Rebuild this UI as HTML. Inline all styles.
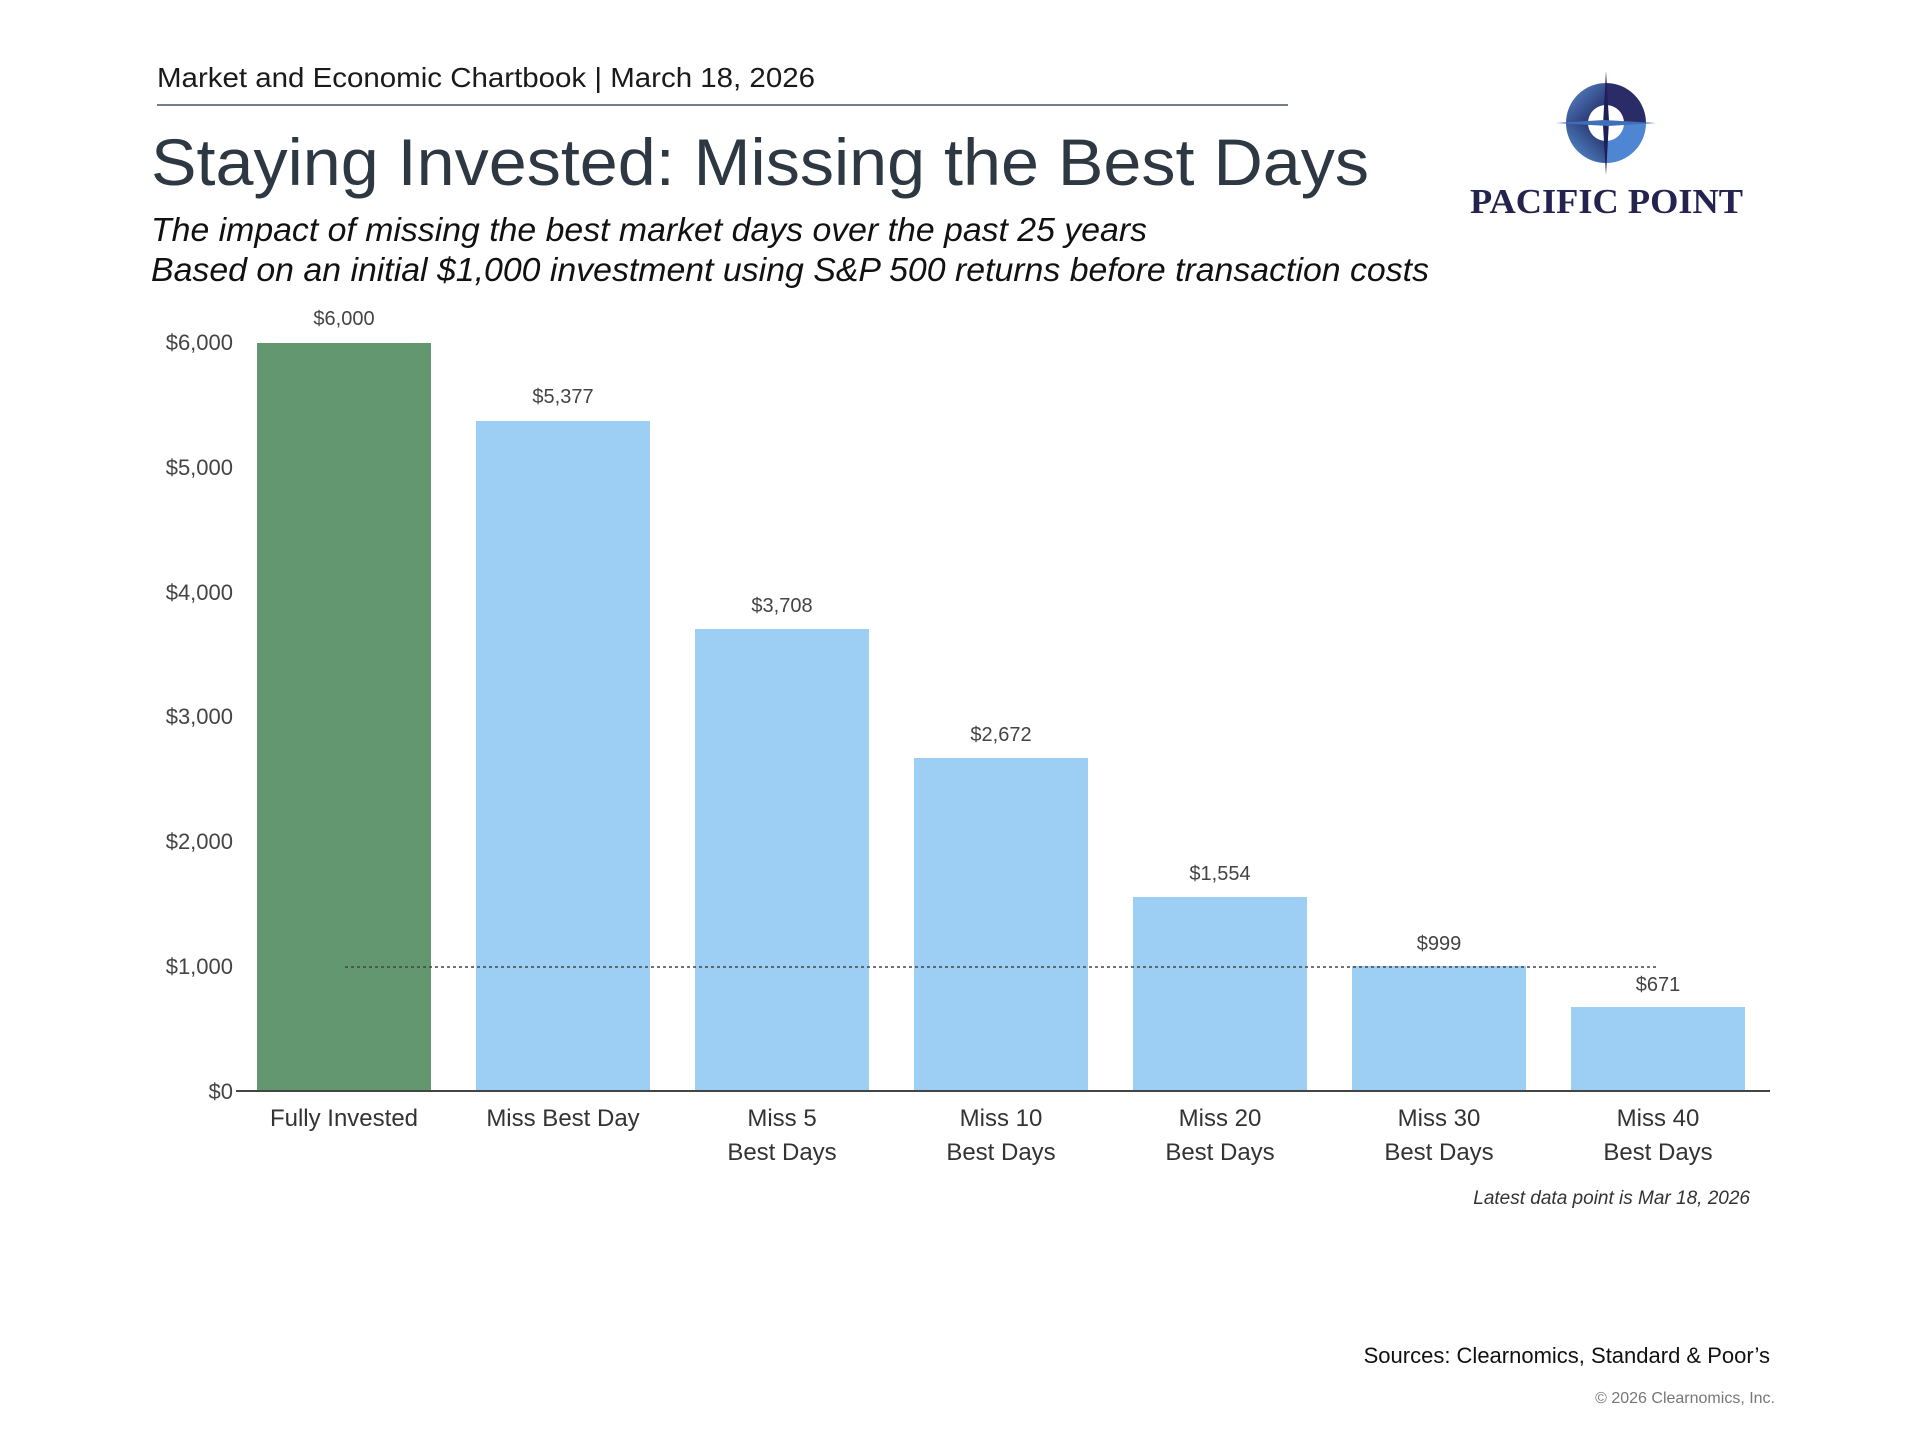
<!DOCTYPE html>
<html><head><meta charset="utf-8"><style>html,body{margin:0;padding:0;background:#fff}svg{display:block}</style></head>
<body>
<svg width="1920" height="1440" viewBox="0 0 1920 1440" xmlns="http://www.w3.org/2000/svg" font-family="Liberation Sans, sans-serif">
<defs>
<linearGradient id="g1" x1="0" y1="0" x2="1" y2="1"><stop offset="0" stop-color="#5b8fd8"/><stop offset="1" stop-color="#1e1f55"/></linearGradient>
<linearGradient id="g2" x1="1" y1="0" x2="0" y2="1"><stop offset="0" stop-color="#1e1f55"/><stop offset="1" stop-color="#5b9ae0"/></linearGradient>
</defs>
<g transform="translate(0,-2)">
<text x="157" y="89" font-size="28" fill="#1a1a1a" textLength="658" lengthAdjust="spacingAndGlyphs">Market and Economic Chartbook | March 18, 2026</text>
<line x1="157" y1="107" x2="1288" y2="107" stroke="#4a555e" stroke-width="1.5"/>
<text x="151" y="187" font-size="66" fill="#2e3842" textLength="1218" lengthAdjust="spacingAndGlyphs">Staying Invested: Missing the Best Days</text>
<text x="151" y="243" font-size="33" font-style="italic" fill="#111" textLength="996" lengthAdjust="spacingAndGlyphs">The impact of missing the best market days over the past 25 years</text>
<text x="151" y="283" font-size="33" font-style="italic" fill="#111" textLength="1278" lengthAdjust="spacingAndGlyphs">Based on an initial $1,000 investment using S&amp;P 500 returns before transaction costs</text>
<g transform="translate(1606,125)">
<path d="M0,-40 A40,40 0 0 0 -40,0 L-18,0 A18,18 0 0 1 0,-18Z" fill="url(#g1)"/>
<path d="M0,-40 A40,40 0 0 1 40,0 L18,0 A18,18 0 0 0 0,-18Z" fill="#2a2c68"/>
<path d="M-40,0 A40,40 0 0 0 0,40 L0,18 A18,18 0 0 1 -18,0Z" fill="url(#g2)"/>
<path d="M40,0 A40,40 0 0 1 0,40 L0,18 A18,18 0 0 0 18,0Z" fill="#4f86d4"/>
<polygon points="0,-52 3,-2 0,52 -3,2" fill="#1e1f55"/>
<polygon points="-50,0 -2,-3 50,0 2,3" fill="#3f6fb8"/>
</g>
<text x="1470" y="215" font-size="35" font-weight="bold" font-family="Liberation Serif, serif" fill="#24224f" textLength="273" lengthAdjust="spacingAndGlyphs">PACIFIC POINT</text>
<g font-size="22" fill="#444" text-anchor="end">
<text x="233" y="352">$6,000</text>
<text x="233" y="477">$5,000</text>
<text x="233" y="602">$4,000</text>
<text x="233" y="726">$3,000</text>
<text x="233" y="851">$2,000</text>
<text x="233" y="976">$1,000</text>
<text x="233" y="1101">$0</text>
</g>
<line x1="236" y1="1093" x2="258" y2="1093" stroke="#444" stroke-width="1.5"/>
<rect x="257" y="345" width="174" height="748" fill="#62976f"/>
<rect x="476" y="423" width="174" height="670" fill="#9dcff5"/>
<rect x="695" y="631" width="174" height="462" fill="#9dcff5"/>
<rect x="914" y="760" width="174" height="333" fill="#9dcff5"/>
<rect x="1133" y="899" width="174" height="194" fill="#9dcff5"/>
<rect x="1352" y="968" width="174" height="125" fill="#9dcff5"/>
<rect x="1571" y="1009" width="174" height="84" fill="#9dcff5"/>
<line x1="345" y1="969" x2="1658" y2="969" stroke="#444" stroke-width="1.5" stroke-dasharray="3,3"/>
<line x1="236" y1="1093" x2="1770" y2="1093" stroke="#444" stroke-width="2"/>
<g font-size="20" fill="#444" text-anchor="middle">
<text x="344" y="327">$6,000</text>
<text x="563" y="405">$5,377</text>
<text x="782" y="614">$3,708</text>
<text x="1001" y="743">$2,672</text>
<text x="1220" y="882">$1,554</text>
<text x="1439" y="952">$999</text>
<text x="1658" y="993">$671</text>
</g>
<g font-size="24" fill="#333" text-anchor="middle">
<text x="344" y="1128">Fully Invested</text>
<text x="563" y="1128">Miss Best Day</text>
<text x="782" y="1128">Miss 5</text><text x="782" y="1162">Best Days</text>
<text x="1001" y="1128">Miss 10</text><text x="1001" y="1162">Best Days</text>
<text x="1220" y="1128">Miss 20</text><text x="1220" y="1162">Best Days</text>
<text x="1439" y="1128">Miss 30</text><text x="1439" y="1162">Best Days</text>
<text x="1658" y="1128">Miss 40</text><text x="1658" y="1162">Best Days</text>
</g>
<text x="1750" y="1206" font-size="19" font-style="italic" fill="#333" text-anchor="end">Latest data point is Mar 18, 2026</text>
<text x="1770" y="1365" font-size="22" fill="#111" text-anchor="end">Sources: Clearnomics, Standard &amp; Poor’s</text>
<text x="1775" y="1405" font-size="16" fill="#777" text-anchor="end">© 2026 Clearnomics, Inc.</text>
</g>
</svg>
</body></html>
